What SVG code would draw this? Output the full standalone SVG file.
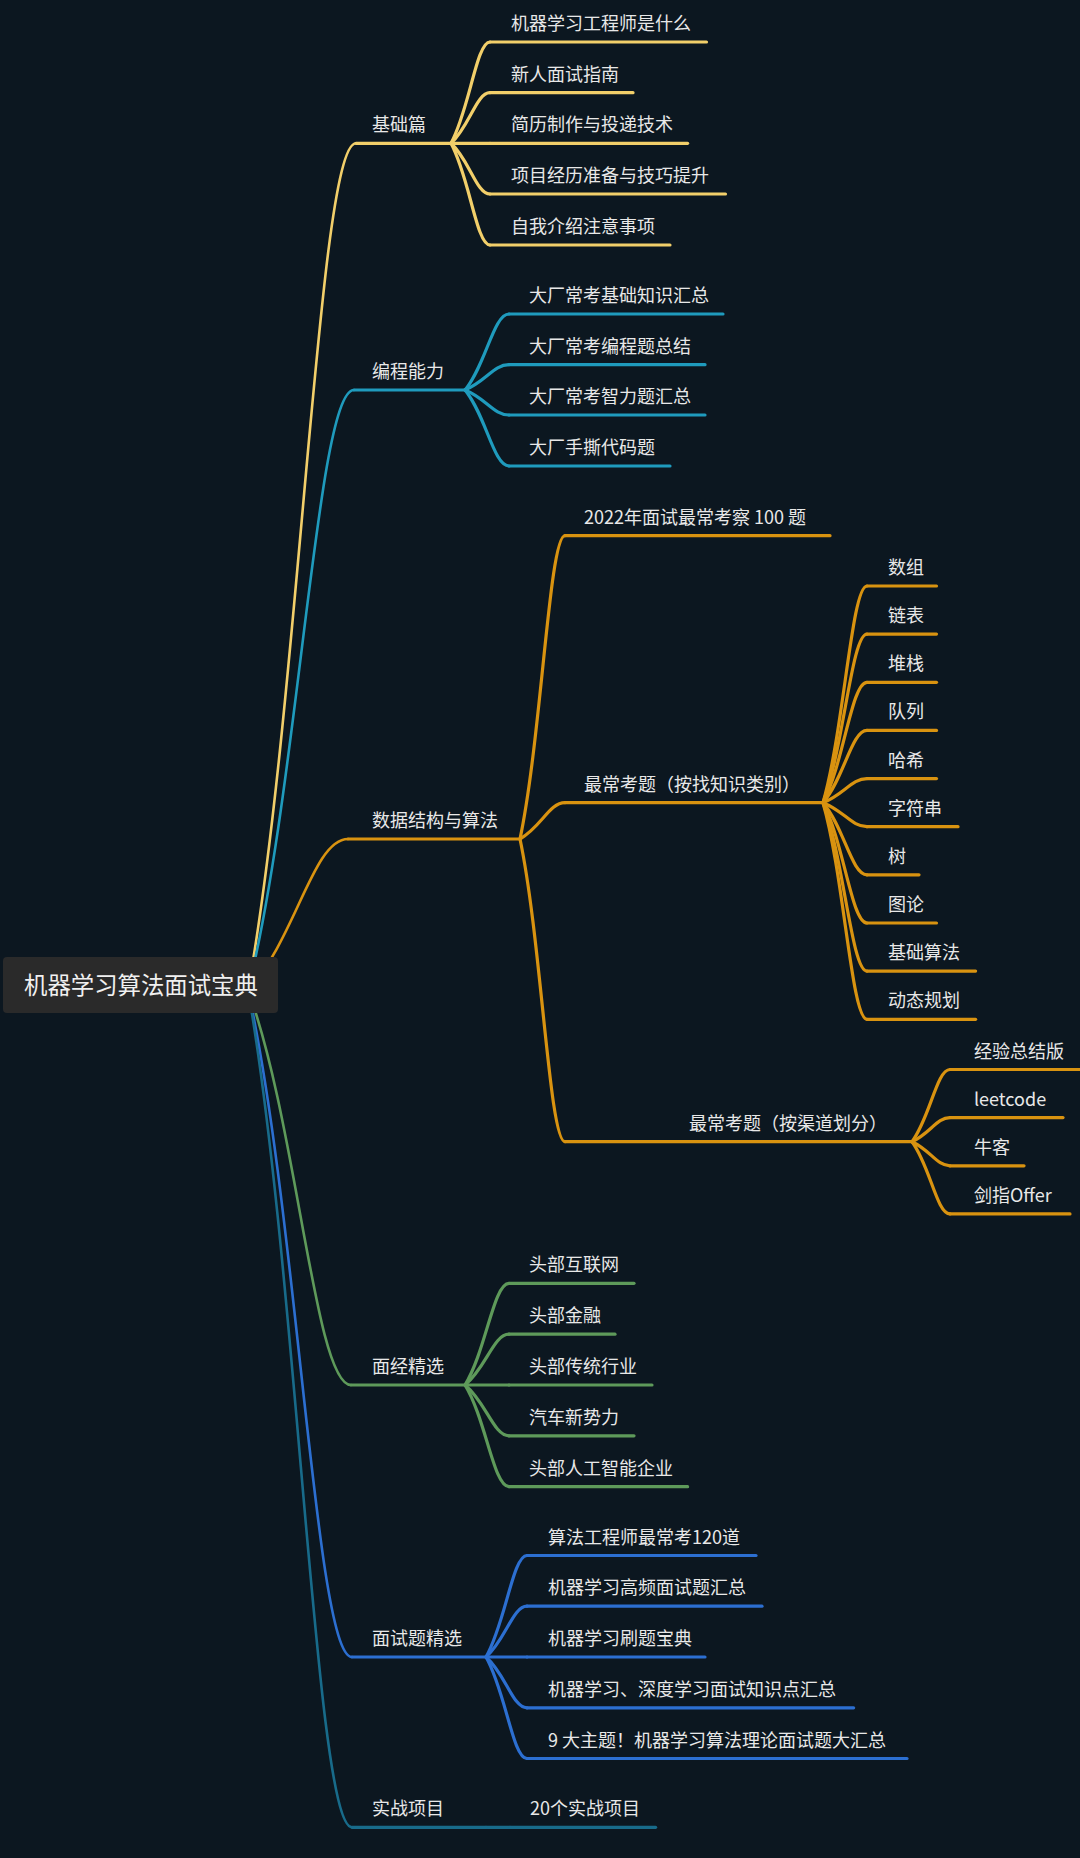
<svg xmlns="http://www.w3.org/2000/svg" width="1080" height="1858" viewBox="0 0 1080 1858">
<style>
.bg{fill:#0c1720}
.c{fill:none;stroke-linecap:round;stroke-linejoin:round;stroke-width:3.2}
.r{stroke-width:2.6}
.u{fill:none;stroke-linecap:round;stroke-width:3.2}
.y{stroke:#f2cf6a}
.cy{stroke:#1f9bbd}
.o{stroke:#d99310}
.g{stroke:#5e9a5a}
.b{stroke:#2c6fd1}
.tl{stroke:#186b8a}
text{font-family:"Noto Sans CJK SC","Noto Sans",sans-serif;font-size:18px;fill:#e8e8e8}
.root{font-size:23.4px;fill:#f0f0f0}
</style>
<rect class="bg" x="0" y="0" width="1080" height="1858"/>
<g id="connectors">
  <path class="c r y" d="M248,990 C299.8,702.1 318.2,143.3 356,143.3"/>
  <path class="c r cy" d="M248,990 C298.9,786 316.9,390 354,390"/>
  <path class="c r o" d="M248,990 C296,938.7 313,839 348,839"/>
  <path class="c r g" d="M248,990 C297.4,1124.3 315,1385 351,1385"/>
  <path class="c r b" d="M248,990 C297.9,1216.8 315.6,1657 352,1657"/>
  <path class="c r tl" d="M248,990 C297.9,1274.7 315.6,1827.3 352,1827.3"/>
  <path class="c y" d="M451,143.3 C469.7,108.9 476.4,42 490,42"/>
  <path class="c y" d="M451,143.3 C469.7,126.1 476.4,92.7 490,92.7"/>
  <path class="c y" d="M451,143.3 L490,143.3"/>
  <path class="c y" d="M451,143.3 C469.7,160.5 476.4,194 490,194"/>
  <path class="c y" d="M451,143.3 C469.7,177.9 476.4,245 490,245"/>
  <path class="c cy" d="M465,390 C486.1,364.2 493.6,314 509,314"/>
  <path class="c cy" d="M465,390 C486.1,381.4 493.6,364.7 509,364.7"/>
  <path class="c cy" d="M465,390 C486.1,398.5 493.6,415 509,415"/>
  <path class="c cy" d="M465,390 C486.1,415.8 493.6,466 509,466"/>
  <path class="c o" d="M520,839 C541.6,735.9 549.3,535.7 565,535.7"/>
  <path class="c o" d="M520,839 C541.6,826.7 549.3,802.7 565,802.7"/>
  <path class="c o" d="M520,839 C541.6,941.9 549.3,1141.7 565,1141.7"/>
  <path class="c o" d="M823,802.7 C844.1,729 851.6,586 867,586"/>
  <path class="c o" d="M823,802.7 C844.1,745.4 851.6,634.1 867,634.1"/>
  <path class="c o" d="M823,802.7 C844.1,761.8 851.6,682.3 867,682.3"/>
  <path class="c o" d="M823,802.7 C844.1,778.1 851.6,730.4 867,730.4"/>
  <path class="c o" d="M823,802.7 C844.1,794.5 851.6,778.6 867,778.6"/>
  <path class="c o" d="M823,802.7 C844.1,810.9 851.6,826.7 867,826.7"/>
  <path class="c o" d="M823,802.7 C844.1,827.2 851.6,874.8 867,874.8"/>
  <path class="c o" d="M823,802.7 C844.1,843.6 851.6,923 867,923"/>
  <path class="c o" d="M823,802.7 C844.1,859.9 851.6,971.1 867,971.1"/>
  <path class="c o" d="M823,802.7 C844.1,876.3 851.6,1019.3 867,1019.3"/>
  <path class="c o" d="M912,1141.7 C930.2,1117.2 936.7,1069.5 950,1069.5"/>
  <path class="c o" d="M912,1141.7 C930.2,1133.5 936.7,1117.6 950,1117.6"/>
  <path class="c o" d="M912,1141.7 C930.2,1149.9 936.7,1165.8 950,1165.8"/>
  <path class="c o" d="M912,1141.7 C930.2,1166.2 936.7,1213.9 950,1213.9"/>
  <path class="c g" d="M465,1385 C486.1,1350.4 493.6,1283.3 509,1283.3"/>
  <path class="c g" d="M465,1385 C486.1,1367.7 493.6,1334.2 509,1334.2"/>
  <path class="c g" d="M465,1385 L509,1385"/>
  <path class="c g" d="M465,1385 C486.1,1402.3 493.6,1435.8 509,1435.8"/>
  <path class="c g" d="M465,1385 C486.1,1419.6 493.6,1486.7 509,1486.7"/>
  <path class="c b" d="M486,1657 C505.7,1622.5 512.7,1555.5 527,1555.5"/>
  <path class="c b" d="M486,1657 C505.7,1639.7 512.7,1606.2 527,1606.2"/>
  <path class="c b" d="M486,1657 L527,1657"/>
  <path class="c b" d="M486,1657 C505.7,1674.3 512.7,1707.8 527,1707.8"/>
  <path class="c b" d="M486,1657 C505.7,1691.5 512.7,1758.5 527,1758.5"/>
  <path class="c tl" d="M486,1827.3 L510,1827.3"/>
</g>
<g id="n-jichu"><line class="u y" x1="356" y1="143.3" x2="451" y2="143.3"/><text x="372" y="131.3">基础篇</text></g>
<g id="n-jichu-1"><line class="u y" x1="490" y1="42" x2="706.5" y2="42"/><text x="511" y="30">机器学习工程师是什么</text></g>
<g id="n-jichu-2"><line class="u y" x1="490" y1="92.7" x2="633" y2="92.7"/><text x="511" y="80.7">新人面试指南</text></g>
<g id="n-jichu-3"><line class="u y" x1="490" y1="143.3" x2="687.6" y2="143.3"/><text x="511" y="131.3">简历制作与投递技术</text></g>
<g id="n-jichu-4"><line class="u y" x1="490" y1="194" x2="725.5" y2="194"/><text x="511" y="182">项目经历准备与技巧提升</text></g>
<g id="n-jichu-5"><line class="u y" x1="490" y1="245" x2="670" y2="245"/><text x="511" y="233">自我介绍注意事项</text></g>
<g id="n-biancheng"><line class="u cy" x1="354" y1="390" x2="465" y2="390"/><text x="372" y="378">编程能力</text></g>
<g id="n-biancheng-1"><line class="u cy" x1="509" y1="314" x2="723" y2="314"/><text x="529" y="302">大厂常考基础知识汇总</text></g>
<g id="n-biancheng-2"><line class="u cy" x1="509" y1="364.7" x2="705" y2="364.7"/><text x="529" y="352.7">大厂常考编程题总结</text></g>
<g id="n-biancheng-3"><line class="u cy" x1="509" y1="415" x2="705" y2="415"/><text x="529" y="403">大厂常考智力题汇总</text></g>
<g id="n-biancheng-4"><line class="u cy" x1="509" y1="466" x2="670" y2="466"/><text x="529" y="454">大厂手撕代码题</text></g>
<g id="n-shuju"><line class="u o" x1="348" y1="839" x2="520" y2="839"/><text x="372" y="827">数据结构与算法</text></g>
<g id="n-shuju-1"><line class="u o" x1="565" y1="535.7" x2="830" y2="535.7"/><text x="584" y="523.7">2022年面试最常考察 100 题</text></g>
<g id="n-shuju-2"><line class="u o" x1="565" y1="802.7" x2="823" y2="802.7"/><text x="584" y="790.7">最常考题（按找知识类别）</text></g>
<g id="n-shuju-3"><line class="u o" x1="565" y1="1141.7" x2="912" y2="1141.7"/><text x="689" y="1129.7">最常考题（按渠道划分）</text></g>
<g id="n-k1"><line class="u o" x1="867" y1="586" x2="936.5" y2="586"/><text x="888" y="574">数组</text></g>
<g id="n-k2"><line class="u o" x1="867" y1="634.1" x2="936.5" y2="634.1"/><text x="888" y="622.1">链表</text></g>
<g id="n-k3"><line class="u o" x1="867" y1="682.3" x2="936.5" y2="682.3"/><text x="888" y="670.3">堆栈</text></g>
<g id="n-k4"><line class="u o" x1="867" y1="730.4" x2="936.5" y2="730.4"/><text x="888" y="718.4">队列</text></g>
<g id="n-k5"><line class="u o" x1="867" y1="778.6" x2="936.5" y2="778.6"/><text x="888" y="766.6">哈希</text></g>
<g id="n-k6"><line class="u o" x1="867" y1="826.7" x2="958" y2="826.7"/><text x="888" y="814.7">字符串</text></g>
<g id="n-k7"><line class="u o" x1="867" y1="874.8" x2="919" y2="874.8"/><text x="888" y="862.8">树</text></g>
<g id="n-k8"><line class="u o" x1="867" y1="923" x2="936.5" y2="923"/><text x="888" y="911">图论</text></g>
<g id="n-k9"><line class="u o" x1="867" y1="971.1" x2="975.6" y2="971.1"/><text x="888" y="959.1">基础算法</text></g>
<g id="n-k10"><line class="u o" x1="867" y1="1019.3" x2="975.6" y2="1019.3"/><text x="888" y="1007.3">动态规划</text></g>
<g id="n-q1"><line class="u o" x1="950" y1="1069.5" x2="1080" y2="1069.5"/><text x="974" y="1057.5">经验总结版</text></g>
<g id="n-q2"><line class="u o" x1="950" y1="1117.6" x2="1063" y2="1117.6"/><text x="974" y="1105.6">leetcode</text></g>
<g id="n-q3"><line class="u o" x1="950" y1="1165.8" x2="1024" y2="1165.8"/><text x="974" y="1153.8">牛客</text></g>
<g id="n-q4"><line class="u o" x1="950" y1="1213.9" x2="1070" y2="1213.9"/><text x="974" y="1201.9">剑指Offer</text></g>
<g id="n-mianjing"><line class="u g" x1="351" y1="1385" x2="465" y2="1385"/><text x="372" y="1373">面经精选</text></g>
<g id="n-mianjing-1"><line class="u g" x1="509" y1="1283.3" x2="634" y2="1283.3"/><text x="529" y="1271.3">头部互联网</text></g>
<g id="n-mianjing-2"><line class="u g" x1="509" y1="1334.2" x2="615" y2="1334.2"/><text x="529" y="1322.2">头部金融</text></g>
<g id="n-mianjing-3"><line class="u g" x1="509" y1="1385" x2="652" y2="1385"/><text x="529" y="1373">头部传统行业</text></g>
<g id="n-mianjing-4"><line class="u g" x1="509" y1="1435.8" x2="634" y2="1435.8"/><text x="529" y="1423.8">汽车新势力</text></g>
<g id="n-mianjing-5"><line class="u g" x1="509" y1="1486.7" x2="687.6" y2="1486.7"/><text x="529" y="1474.7">头部人工智能企业</text></g>
<g id="n-mianshi"><line class="u b" x1="352" y1="1657" x2="486" y2="1657"/><text x="372" y="1645">面试题精选</text></g>
<g id="n-mianshi-1"><line class="u b" x1="527" y1="1555.5" x2="756" y2="1555.5"/><text x="548" y="1543.5">算法工程师最常考120道</text></g>
<g id="n-mianshi-2"><line class="u b" x1="527" y1="1606.2" x2="762" y2="1606.2"/><text x="548" y="1594.2">机器学习高频面试题汇总</text></g>
<g id="n-mianshi-3"><line class="u b" x1="527" y1="1657" x2="705" y2="1657"/><text x="548" y="1645">机器学习刷题宝典</text></g>
<g id="n-mianshi-4"><line class="u b" x1="527" y1="1707.8" x2="853.6" y2="1707.8"/><text x="548" y="1695.8">机器学习、深度学习面试知识点汇总</text></g>
<g id="n-mianshi-5"><line class="u b" x1="527" y1="1758.5" x2="907" y2="1758.5"/><text x="548" y="1746.5">9 大主题！机器学习算法理论面试题大汇总</text></g>
<g id="n-shizhan"><line class="u tl" x1="352" y1="1827.3" x2="486" y2="1827.3"/><text x="372" y="1815.3">实战项目</text></g>
<g id="n-shizhan-1"><line class="u tl" x1="510" y1="1827.3" x2="655.6" y2="1827.3"/><text x="530" y="1815.3">20个实战项目</text></g>
<g id="n-root"><rect x="3" y="957" width="275" height="56" rx="4" fill="#2a2a2a"/><text class="root" x="24" y="994">机器学习算法面试宝典</text></g>
</svg>
